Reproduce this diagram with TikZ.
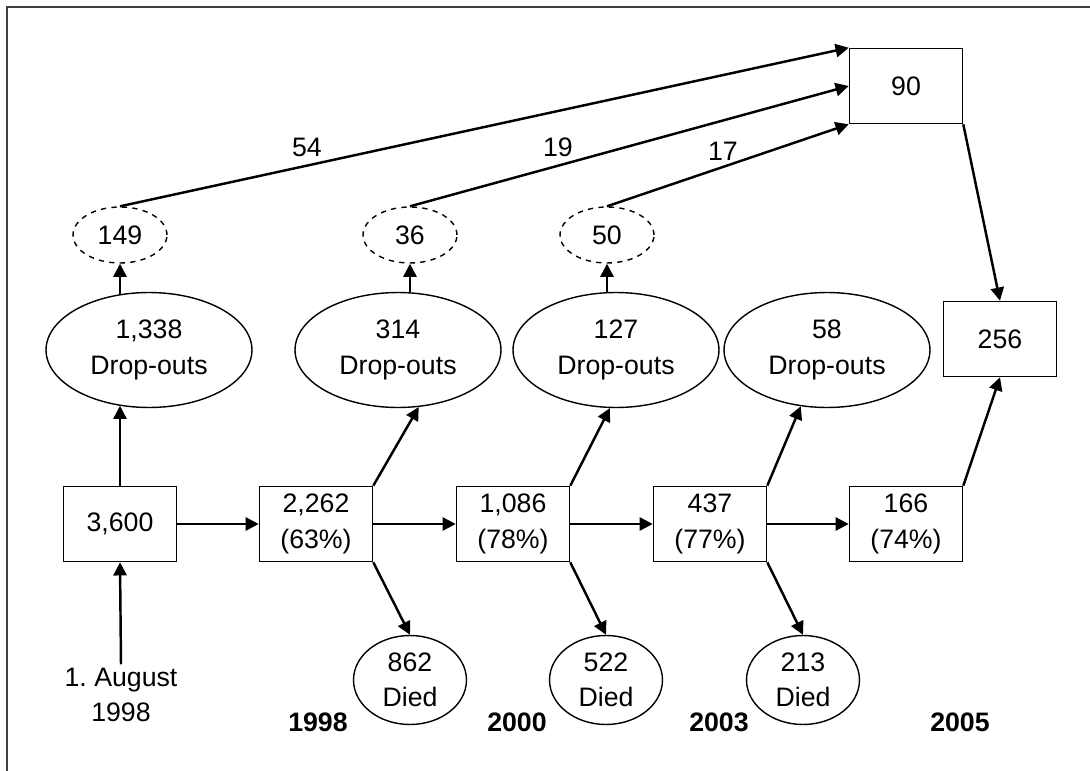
\documentclass[tikz,border=0pt]{standalone}
\usepackage{fontspec}
\setmainfont{Liberation Sans}
\usetikzlibrary{arrows.meta}
\usetikzlibrary{shapes.geometric}

\tikzset{
  cohort/.style={draw,line width=0.9pt,minimum width=2.26cm,minimum height=1.5cm,inner sep=0pt,align=center},
  dropout/.style={draw,ellipse,line width=0.8pt,minimum width=4.12cm,minimum height=2.3cm,inner sep=0pt,align=center},
  died/.style={draw,ellipse,line width=0.8pt,minimum width=2.26cm,minimum height=1.78cm,inner sep=0pt,align=center},
  back/.style={draw,ellipse,dashed,line width=0.8pt,minimum width=1.88cm,minimum height=1.12cm,inner sep=0pt},
  flow/.style={-{Triangle[length=7.5pt,width=7.5pt]},line width=1.4pt},
  year/.style={font=\bfseries}
}

\begin{document}
\fontsize{15.2}{20}\selectfont
\begin{tikzpicture}[x=0.02cm,y=-0.02cm]
    \useasboundingbox (0,0) rectangle (1090,771);
    \draw[line width=1pt,black!75] (7,771) -- (7,7) -- (1090,7);

    % cohort boxes
    \node[cohort] (n3600) at (120,524) {3,600};
    \node[cohort] (n2262) at (316,524) {2,262\\(63\%)};
    \node[cohort] (n1086) at (513,524) {1,086\\(78\%)};
    \node[cohort] (n437) at (710,524) {437\\(77\%)};
    \node[cohort] (n166) at (906,524) {166\\(74\%)};
    \node[cohort] (n90) at (906,86) {90};
    \node[cohort] (n256) at (1000,339) {256};

    % drop-outs and deaths
    \node[dropout] (e1338) at (149,350) {1,338\\Drop-outs};
    \node[dropout] (e314) at (398,350) {314\\Drop-outs};
    \node[dropout] (e127) at (616,350) {127\\Drop-outs};
    \node[dropout] (e58) at (827,350) {58\\Drop-outs};
    \node[back] (d149) at (120,235) {149};
    \node[back] (d36) at (410,235) {36};
    \node[back] (d50) at (607,235) {50};
    \node[died] (x862) at (410,680) {862\\Died};
    \node[died] (x522) at (606,680) {522\\Died};
    \node[died] (x213) at (803,680) {213\\Died};

    \node[align=center,inner sep=2pt] (aug) at (121,695) {1.\ August\\1998};
    \node[year] (y1998) at (318,722) {1998};
    \node[year] (y2000) at (517,722) {2000};
    \node[year] (y2003) at (719,722) {2003};
    \node[year] (y2005) at (960,722) {2005};

    \draw[flow] (aug.north) -- (n3600.south);
    \draw[flow] (n3600) -- (n2262);
    \draw[flow] (n2262) -- (n1086);
    \draw[flow] (n1086) -- (n437);
    \draw[flow] (n437) -- (n166);

    \draw[flow] (n3600.north) -- (e1338.242 -| n3600);
    \draw[flow] (n2262.north east) -- (e314.290);
    \draw[flow] (n1086.north east) -- (e127.264);
    \draw[flow] (n437.north east) -- (e58.245);
    \draw[flow] (n2262.south east) -- (x862.north);
    \draw[flow] (n1086.south east) -- (x522.north);
    \draw[flow] (n437.south east) -- (x213.north);

    \draw[flow] (e1338.117 -| d149) -- (d149.south);
    \draw[flow] (e314.78 -| d36) -- (d36.south);
    \draw[flow] (e127.99 -| d50) -- (d50.south);

    % back into the study
    \draw[flow] (d149.north) -- (n90.north west);
    \draw[flow] (d36.north) -- (n90.west);
    \draw[flow] (d50.north) -- (n90.south west);
    \node (l54) at (307,147) {54};
    \node (l19) at (558,147) {19};
    \node (l17) at (723,151) {17};

    \draw[flow] (n90.south east) -- (n256.north);
    \draw[flow] (n166.north east) -- (n256.south);
\end{tikzpicture}
\end{document}
